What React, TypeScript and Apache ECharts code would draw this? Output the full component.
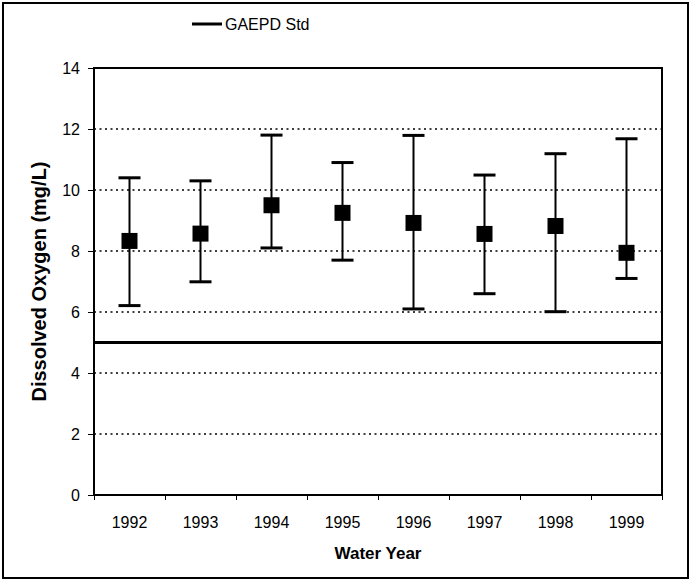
import React, { useEffect, useRef } from "react";
import * as echarts from "echarts";

const years = ["1992", "1993", "1994", "1995", "1996", "1997", "1998", "1999"];
const meanValues = [8.33, 8.57, 9.5, 9.25, 8.92, 8.56, 8.82, 7.94];
const minValues = [6.21, 6.99, 8.1, 7.7, 6.1, 6.6, 6.01, 7.1];
const maxValues = [10.4, 10.3, 11.8, 10.9, 11.79, 10.49, 11.19, 11.68];
const standardValue = 5;
const yTicks = [0, 2, 4, 6, 8, 10, 12, 14];

const FONT = "'Liberation Sans', Arial, sans-serif";

export default function App() {
  const ref = useRef<HTMLDivElement>(null);
  useEffect(() => {
    if (!ref.current) return;
    const chart = echarts.init(ref.current, null, { renderer: "svg" });
    const errData = years.map((_, i) => [i, minValues[i], maxValues[i]]);
    chart.setOption({
      animation: false,
      backgroundColor: "#fff",
      textStyle: { fontFamily: FONT, color: "#000" },
      graphic: [
        {
          type: "rect",
          shape: { x: 3, y: 3, width: 685, height: 575 },
          style: { fill: "none", stroke: "#000", lineWidth: 2 },
          silent: true,
        },
      ],
      legend: {
        data: ["GAEPD Std"],
        left: 192,
        top: 16,
        padding: 0,
        itemWidth: 30,
        itemHeight: 3,
        icon: "rect",
        itemStyle: { color: "#000" },
        textStyle: { fontFamily: FONT, fontSize: 16, color: "#000", padding: [0, 0, 0, -2] },
      },
      grid: {
        left: 94,
        right: 30,
        top: 68,
        bottom: 88,
        show: true,
        borderColor: "#000",
        borderWidth: 2,
      },
      xAxis: {
        type: "category",
        data: years,
        boundaryGap: true,
        name: "Water Year",
        nameLocation: "middle",
        nameGap: 50,
        nameTextStyle: { fontFamily: FONT, fontSize: 17, fontWeight: "bold", color: "#000" },
        axisLine: { lineStyle: { color: "#000", width: 2 } },
        axisTick: { show: true, length: 5, lineStyle: { color: "#000", width: 1 } },
        axisLabel: { fontFamily: FONT, fontSize: 16, color: "#000", margin: 19 },
        splitLine: { show: false },
      },
      yAxis: {
        type: "value",
        min: yTicks[0],
        max: yTicks[yTicks.length - 1],
        interval: 2,
        name: "Dissolved Oxygen (mg/L)",
        nameLocation: "middle",
        nameGap: 45,
        nameTextStyle: { fontFamily: FONT, fontSize: 20, fontWeight: "bold", color: "#000" },
        axisLine: { show: true, lineStyle: { color: "#000", width: 2 } },
        axisTick: { show: true, length: 6, lineStyle: { color: "#000", width: 1 } },
        axisLabel: { fontFamily: FONT, fontSize: 16, color: "#000", margin: 14 },
        splitLine: { show: true, lineStyle: { color: "#000", width: 1.5, type: [2, 3.5] } },
      },
      series: [
        {
          type: "custom",
          name: "range",
          data: errData,
          z: 3,
          renderItem: (params: any, api: any) => {
            const x = api.value(0);
            const lo = api.coord([x, api.value(1)]);
            const hi = api.coord([x, api.value(2)]);
            const hw = 11;
            return {
              type: "group",
              children: [
                {
                  type: "line",
                  shape: { x1: lo[0], y1: lo[1], x2: hi[0], y2: hi[1] },
                  style: { stroke: "#000", lineWidth: 2 },
                },
                {
                  type: "line",
                  shape: { x1: lo[0] - hw, y1: lo[1], x2: lo[0] + hw, y2: lo[1] },
                  style: { stroke: "#000", lineWidth: 3 },
                },
                {
                  type: "line",
                  shape: { x1: hi[0] - hw, y1: hi[1], x2: hi[0] + hw, y2: hi[1] },
                  style: { stroke: "#000", lineWidth: 3 },
                },
              ],
            };
          },
        },
        {
          type: "scatter",
          name: "mean",
          data: meanValues,
          symbol: "rect",
          symbolSize: 16,
          itemStyle: { color: "#000", opacity: 1 },
          z: 4,
        },
        {
          type: "line",
          name: "GAEPD Std",
          data: [],
          symbol: "none",
          itemStyle: { color: "#000" },
          lineStyle: { color: "#000", width: 3 },
          markLine: {
            silent: true,
            symbol: "none",
            label: { show: false },
            lineStyle: { color: "#000", width: 3, type: "solid" },
            data: [{ yAxis: standardValue }],
          },
          z: 5,
        },
      ],
    });
    return () => chart.dispose();
  }, []);
  return (
    <div
      ref={ref}
      style={{ position: "fixed", left: 0, top: 0, width: 692, height: 583 }}
    />
  );
}
